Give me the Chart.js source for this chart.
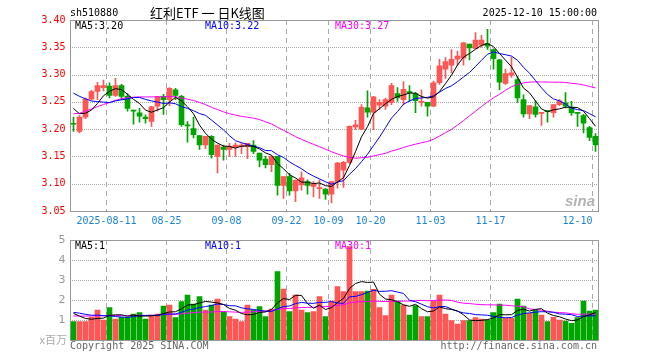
<!DOCTYPE html>
<html>
<head>
<meta charset="utf-8">
<script src="https://cdn.jsdelivr.net/npm/chart.js@4.4.1/dist/chart.umd.min.js"></script>
<style>
body { margin: 0; background: #fff; }
#wrap { position: relative; width: 660px; height: 360px; overflow: hidden; background: #fff; }
#grid { position: absolute; left: 0; top: 0; width: 660px; height: 360px; }
#grid div { position: absolute; }
.hl { height: 1px; background: repeating-linear-gradient(to right, #aaa 0 1px, transparent 1px 2px); }
.vl { width: 1px; background: repeating-linear-gradient(to bottom, #aaa 0 5px, transparent 5px 9px); }
.box { border: 1px solid #999; box-sizing: border-box; }
canvas { position: absolute; left: 0; }
.t { position: absolute; white-space: pre; font: 10px "DejaVu Sans Mono", monospace; line-height: 10px; }
</style>
</head>
<body>
<div id="wrap">
  <div id="grid"></div>
  <canvas id="k" width="660" height="225" style="top:0;width:660px;height:225px"></canvas>
  <canvas id="v" width="660" height="135" style="top:225px;width:660px;height:135px"></canvas>
  <div class="t" style="left:70px;top:8px">sh510880</div>
  <div class="t" style="left:150px;top:6px;font:13px 'Noto Sans CJK SC';line-height:13px">红利ETF 一 日K线图</div>
  <div class="t" style="right:63px;top:8px">2025-12-10 15:00:00</div>
  <div class="t" style="left:75px;top:21px">MA5:3.20</div>
  <div class="t" style="left:205px;top:21px;color:#0000ff">MA10:3.22</div>
  <div class="t" style="left:335px;top:21px;color:#ff00ff">MA30:3.27</div>
  <div class="t" style="left:565px;top:193px;font:italic bold 15px 'Liberation Sans';line-height:15px;color:#b4b4b4">sina</div>
  <div class="t" style="left:75px;top:241px">MA5:1</div>
  <div class="t" style="left:205px;top:241px;color:#0000ff">MA10:1</div>
  <div class="t" style="left:335px;top:241px;color:#ff00ff">MA30:1</div>
  <div class="t" style="right:593px;top:334px;font:11px 'Noto Sans CJK SC';line-height:11px;color:#aaa">x百万</div>
  <div class="t" style="left:70px;top:341px;color:#666">Copyright 2025 SINA.COM</div>
  <div class="t" style="right:63px;top:341px;color:#666">http://finance.sina.com.cn</div>
</div>
<script>
// 交易日
const dates = [
  '2025-08-01','2025-08-04','2025-08-05','2025-08-06','2025-08-07','2025-08-08','2025-08-11','2025-08-12','2025-08-13','2025-08-14',
  '2025-08-15','2025-08-18','2025-08-19','2025-08-20','2025-08-21','2025-08-22','2025-08-25','2025-08-26','2025-08-27','2025-08-28',
  '2025-08-29','2025-09-01','2025-09-02','2025-09-03','2025-09-04','2025-09-05','2025-09-08','2025-09-09','2025-09-10','2025-09-11',
  '2025-09-12','2025-09-15','2025-09-16','2025-09-17','2025-09-18','2025-09-19','2025-09-22','2025-09-23','2025-09-24','2025-09-25',
  '2025-09-26','2025-09-29','2025-09-30','2025-10-09','2025-10-10','2025-10-13','2025-10-14','2025-10-15','2025-10-16','2025-10-17',
  '2025-10-20','2025-10-21','2025-10-22','2025-10-23','2025-10-24','2025-10-27','2025-10-28','2025-10-29','2025-10-30','2025-10-31',
  '2025-11-03','2025-11-04','2025-11-05','2025-11-06','2025-11-07','2025-11-10','2025-11-11','2025-11-12','2025-11-13','2025-11-14',
  '2025-11-17','2025-11-18','2025-11-19','2025-11-20','2025-11-21','2025-11-24','2025-11-25','2025-11-26','2025-11-27','2025-11-28',
  '2025-12-01','2025-12-02','2025-12-03','2025-12-04','2025-12-05','2025-12-08','2025-12-09','2025-12-10'
];
const tickLabels = ['2025-08-11', '08-25', '09-08', '09-22', '10-09', '10-20', '11-03', '11-17', '12-10'];

const open = [
  3.210,3.196,3.222,3.255,3.269,3.276,3.279,3.262,3.280,3.260,
  3.234,3.230,3.222,3.214,3.242,3.260,3.254,3.272,3.260,3.207,
  3.201,3.188,3.171,3.187,3.150,3.167,3.163,3.167,3.168,3.168,
  3.171,3.156,3.145,3.135,3.150,3.097,3.113,3.087,3.098,3.104,
  3.095,3.091,3.090,3.081,3.104,3.125,3.139,3.204,3.200,3.239,
  3.231,3.244,3.242,3.249,3.265,3.254,3.269,3.265,3.249,3.249,
  3.242,3.285,3.310,3.317,3.328,3.330,3.356,3.348,3.354,3.357,
  3.346,3.327,3.284,3.299,3.291,3.254,3.228,3.241,3.229,3.233,
  3.230,3.245,3.248,3.240,3.230,3.225,3.203,3.187
];
const high = [
  3.222,3.225,3.257,3.271,3.286,3.290,3.285,3.293,3.282,3.265,
  3.235,3.238,3.226,3.242,3.260,3.264,3.276,3.275,3.262,3.214,
  3.222,3.188,3.187,3.188,3.171,3.171,3.174,3.175,3.174,3.174,
  3.179,3.156,3.150,3.151,3.150,3.113,3.119,3.107,3.122,3.107,
  3.104,3.107,3.091,3.104,3.139,3.141,3.206,3.216,3.245,3.270,
  3.260,3.254,3.257,3.284,3.276,3.287,3.280,3.267,3.272,3.249,
  3.288,3.328,3.331,3.346,3.343,3.359,3.356,3.377,3.372,3.383,
  3.347,3.328,3.310,3.332,3.297,3.263,3.243,3.252,3.230,3.234,
  3.245,3.254,3.267,3.251,3.230,3.227,3.205,3.192
];
const low = [
  3.196,3.193,3.219,3.253,3.254,3.270,3.257,3.260,3.254,3.233,
  3.209,3.213,3.211,3.205,3.233,3.227,3.243,3.254,3.205,3.176,
  3.184,3.163,3.164,3.147,3.120,3.143,3.150,3.150,3.155,3.146,
  3.155,3.131,3.129,3.122,3.079,3.073,3.079,3.067,3.088,3.081,
  3.076,3.073,3.071,3.065,3.092,3.093,3.137,3.199,3.199,3.222,
  3.199,3.236,3.236,3.245,3.251,3.245,3.251,3.230,3.242,3.224,
  3.241,3.282,3.293,3.303,3.317,3.317,3.327,3.347,3.350,3.346,
  3.310,3.272,3.282,3.295,3.249,3.222,3.219,3.222,3.207,3.213,
  3.222,3.243,3.239,3.225,3.205,3.193,3.179,3.159
];
const close = [
  3.209,3.222,3.255,3.269,3.280,3.280,3.262,3.280,3.260,3.238,
  3.233,3.224,3.219,3.241,3.259,3.254,3.275,3.262,3.208,3.206,
  3.190,3.171,3.187,3.153,3.171,3.163,3.168,3.171,3.171,3.174,
  3.159,3.143,3.135,3.150,3.097,3.113,3.087,3.106,3.111,3.097,
  3.100,3.093,3.081,3.104,3.138,3.139,3.205,3.208,3.240,3.231,
  3.259,3.249,3.254,3.280,3.257,3.273,3.267,3.252,3.250,3.242,
  3.285,3.316,3.324,3.328,3.334,3.358,3.349,3.363,3.363,3.352,
  3.329,3.286,3.302,3.303,3.257,3.228,3.243,3.227,3.230,3.232,
  3.245,3.252,3.242,3.230,3.229,3.211,3.185,3.171
];
// 成交量 (百万)
const volume = [
  0.92,0.92,0.92,1.13,1.50,1.00,1.62,1.05,1.13,1.13,
  1.30,1.37,1.05,1.20,1.30,1.70,1.75,1.12,1.92,2.25,
  1.80,2.17,1.50,1.75,2.05,1.42,1.17,1.05,0.92,1.75,
  1.50,1.67,1.17,1.55,3.42,2.55,1.42,2.25,1.50,1.37,
  1.42,2.17,1.17,1.95,2.67,2.42,4.67,2.42,2.42,2.45,
  2.53,1.62,1.22,2.25,1.95,1.75,1.25,1.72,1.17,1.17,
  1.95,2.25,1.30,0.97,0.80,0.97,0.97,1.12,1.05,1.00,
  1.37,1.80,1.08,1.08,2.05,1.70,1.33,1.50,1.25,0.92,
  1.13,1.00,0.95,0.83,1.12,1.95,1.45,1.50
];
// 8月之前的收盘价和成交量, 只用于均线
const prevClose = [
  3.19,3.14,3.15,3.15,3.16,3.16,3.16,3.163,3.19,3.20,
  3.21,3.22,3.24,3.25,3.26,3.26,3.27,3.28,3.27,3.26,
  3.28,3.30,3.31,3.29,3.29,3.27,3.25,3.24,3.22
];
const prevVolume = [
  1.0,0.9,1.1,1.2,0.9,1.0,1.3,1.2,1.0,1.1,
  1.2,1.4,1.0,0.9,1.1,1.3,1.2,1.1,1.1,1.2,
  1.3,1.5,1.6,1.4,1.35,1.6,1.5,1.33,1.3
];

function movingAvg(prev, arr, n) {
  const all = prev.concat(arr);
  return arr.map((_, i) => {
    const j = i + prev.length;
    let s = 0;
    for (let k = j - n + 1; k <= j; k++) s += all[k];
    return s / n;
  });
}

const up = '#ff5555', down = '#00a600';
const colors = close.map((c, i) => c >= open[i] ? up : down);
const bodies = open.map((o, i) => [Math.min(o, close[i]), Math.max(o, close[i])]);
const wicks = low.map((l, i) => [l, high[i]]);

const tickAt = {};
dates.forEach((d, i) => {
  tickLabels.forEach(t => { if (d.endsWith(t)) tickAt[i] = t; });
});
const lastIdx = dates.length - 1;

const mono = { family: 'DejaVu Sans Mono', size: 10 };

function maLine(data, color) {
  return { type: 'line', data: data, borderColor: color, borderWidth: 1, pointRadius: 0, tension: 0, order: 0 };
}

function xScale(showTicks, height) {
  return {
    offset: true,
    grid: { display: false, drawTicks: false },
    border: { display: false },
    ticks: {
      display: showTicks,
      autoSkip: false,
      maxRotation: 0,
      minRotation: 0,
      padding: 4,
      labelOffset: -3,
      color: '#1a84d8',
      font: mono,
      callback: (v, i) => {
        if (!tickAt[i]) return '';
        return i === lastIdx ? tickAt[i] + '     ' : tickAt[i];
      }
    },
    afterFit: s => { s.height = height; }
  };
}

// 网格线和外框, 位置取自图表的刻度
function addGrid(chart, offsetTop) {
  const g = document.getElementById('grid');
  const a = chart.chartArea, x = chart.scales.x, y = chart.scales.y;
  const half = (x.getPixelForValue(1) - x.getPixelForValue(0)) / 2;
  const left = Math.floor(a.left), right = Math.floor(a.right);
  const top = Math.floor(a.top), bottom = Math.floor(a.bottom);
  const add = (cls, l, t, w, h) => {
    const d = document.createElement('div');
    d.className = cls;
    d.style.left = l + 'px'; d.style.top = (t + offsetTop) + 'px';
    if (w !== null) d.style.width = w + 'px';
    if (h !== null) d.style.height = h + 'px';
    g.appendChild(d);
  };
  y.ticks.forEach(t => {
    if (t.value <= y.min + 1e-6 || t.value >= y.max - 1e-6) return;
    add('hl', left, Math.round(y.getPixelForValue(t.value)), right - left, null);
  });
  Object.keys(tickAt).forEach(i => {
    add('vl', Math.floor(x.getPixelForValue(+i) - half), top, null, bottom - top);
  });
  add('box', left, top, right - left + 1, bottom - top + 1);
}

// K线图
const kChart = new Chart(document.getElementById('k'), {
  type: 'bar',
  data: {
    labels: dates,
    datasets: [
      maLine(movingAvg(prevClose, close, 5), '#000'),
      maLine(movingAvg(prevClose, close, 10), '#0000ff'),
      maLine(movingAvg(prevClose, close, 30), '#ff00ff'),
      { data: bodies, backgroundColor: colors, barThickness: 5, grouped: false, minBarLength: 1, order: 1 },
      { data: wicks, backgroundColor: colors, barThickness: 1, grouped: false, minBarLength: 1, order: 2 }
    ]
  },
  options: {
    responsive: false,
    animation: false,
    layout: { padding: { top: 20, right: 61.5, left: 0, bottom: 0 } },
    plugins: { legend: { display: false }, tooltip: { enabled: false } },
    scales: {
      x: xScale(true, 14),
      y: {
        min: 3.05,
        max: 3.40,
        grid: { display: false, drawTicks: false },
        border: { display: false },
        ticks: { stepSize: 0.05, padding: 5, color: '#f00', font: mono, callback: v => v.toFixed(2) },
        afterFit: s => { s.width = 70.5; }
      }
    }
  }
});

// 成交量
const vChart = new Chart(document.getElementById('v'), {
  type: 'bar',
  data: {
    labels: dates,
    datasets: [
      maLine(movingAvg(prevVolume, volume, 5), '#000'),
      maLine(movingAvg(prevVolume, volume, 10), '#0000ff'),
      maLine(movingAvg(prevVolume, volume, 30), '#ff00ff'),
      { data: volume, backgroundColor: colors, barThickness: 5, order: 1 }
    ]
  },
  options: {
    responsive: false,
    animation: false,
    layout: { padding: { top: 15, right: 61.5, left: 0, bottom: 0 } },
    plugins: { legend: { display: false }, tooltip: { enabled: false } },
    scales: {
      x: xScale(false, 20),
      y: {
        min: 0,
        max: 5,
        grid: { display: false, drawTicks: false },
        border: { display: false },
        ticks: { stepSize: 1, padding: 5, color: '#999', font: { family: 'DejaVu Sans', size: 11 }, callback: v => v === 0 ? '' : v },
        afterFit: s => { s.width = 70.5; }
      }
    }
  }
});

addGrid(kChart, 0);
addGrid(vChart, 225);
</script>
</body>
</html>
